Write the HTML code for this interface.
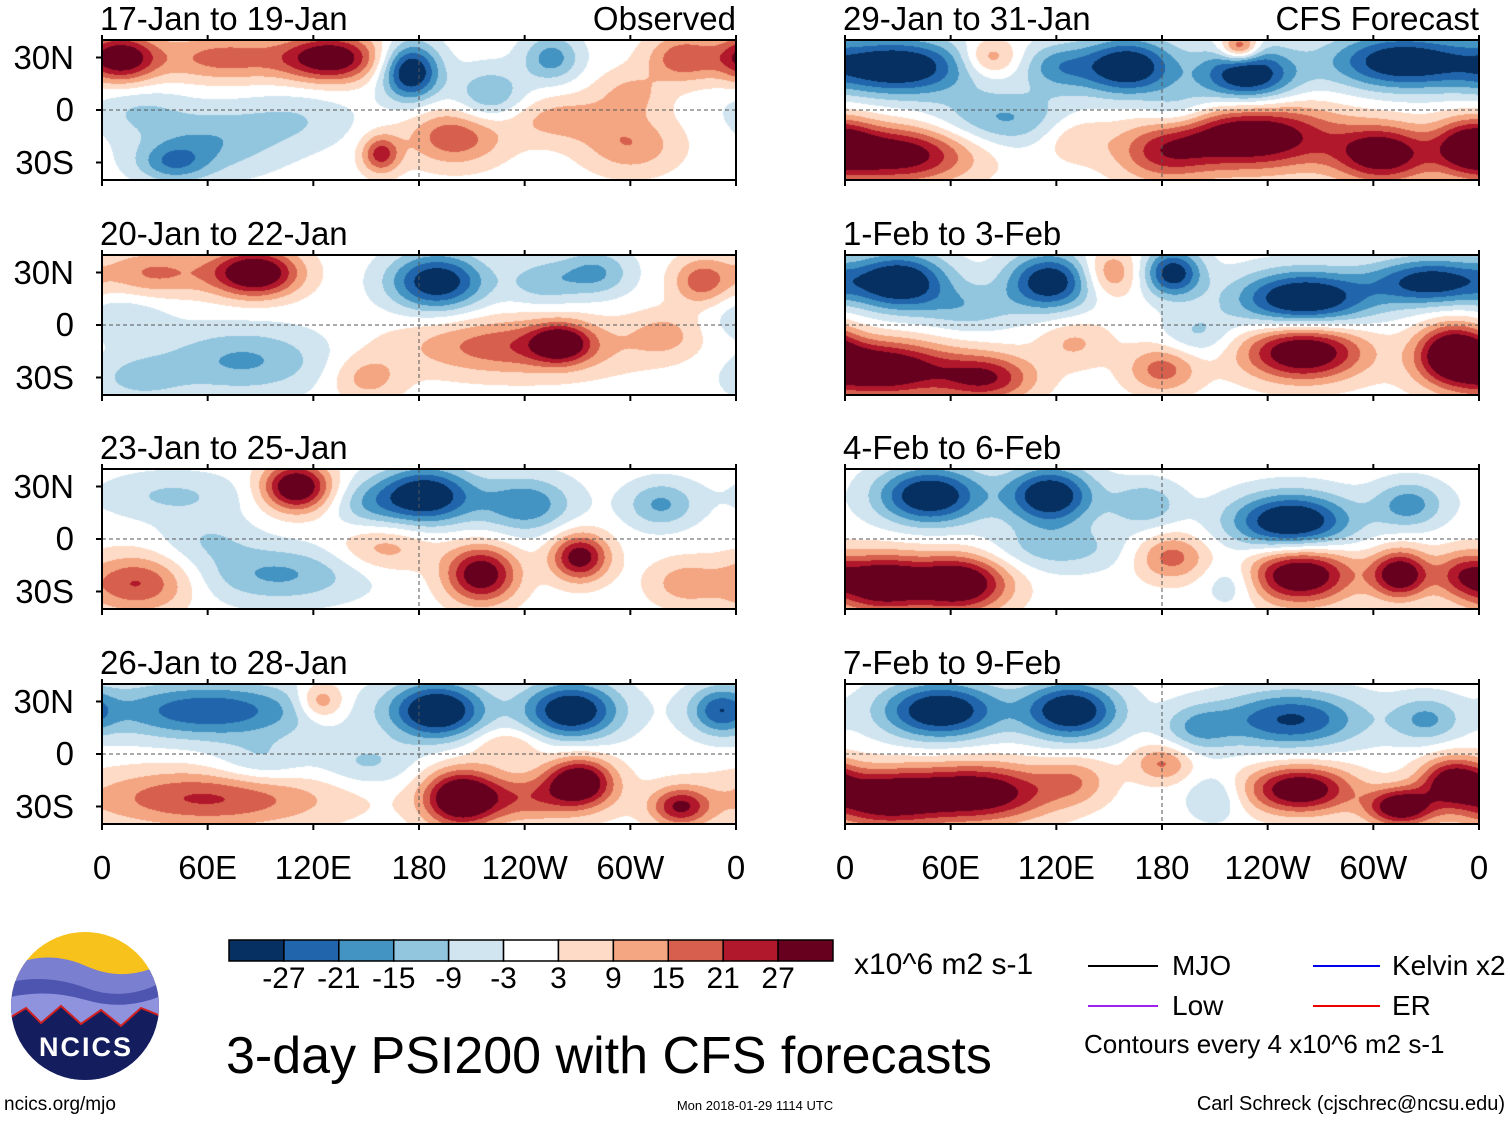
<!DOCTYPE html>
<html><head><meta charset="utf-8">
<style>
body{margin:0;background:#fff;font-family:"Liberation Sans",sans-serif;}
#wrap{position:relative;width:1510px;height:1121px;overflow:hidden;background:#fff;}
.t{position:absolute;color:#000;white-space:nowrap;line-height:1;}
canvas{position:absolute;}
.frame{position:absolute;border:2px solid #000;box-sizing:border-box;}
</style></head><body>
<div id="wrap">
<svg id="ov" width="1510" height="1121" style="position:absolute;left:0;top:0"></svg>
</div>
<script>
const levels=[-27,-21,-15,-9,-3,3,9,15,21,27];
const levelLabels=["-27","-21","-15","-9","-3","3","9","15","21","27"];
const colors=["#053061","#2166ac","#4393c3","#92c5de","#d1e5f0","#ffffff","#fddbc7","#f4a582","#d6604d","#b2182b","#67001f"];
const xTickLabels=["0","60E","120E","180","120W","60W","0"];
const xTickLons=[0,60,120,180,240,300,360];
const yTickLabels=["30N","0","30S"];
const yTickLats=[30,0,-30];
const panelTitles=["17-Jan to 19-Jan","20-Jan to 22-Jan","23-Jan to 25-Jan","26-Jan to 28-Jan","29-Jan to 31-Jan","1-Feb to 3-Feb","4-Feb to 6-Feb","7-Feb to 9-Feb"];
// blobs: [lon, lat, amplitude, lonRadius, latRadius]
const blobs1=[[10,30,34,15,10],[70,30,18,30,10],[130,30,34,20,10],[175,22,-36,12,12],[60,-18,-14,30,14],[200,-15,20,20,12],[158,-25,24,8,8],[330,30,20,15,10],[220,8,-16,15,12],[255,30,-18,12,10],[110,-5,-8,25,12],[300,-20,14,20,12],[40,-30,-16,15,8],[260,-5,12,25,10],[20,0,-8,20,10],[300,10,10,15,10]];
const blobs2=[[87,30,38,18,10],[30,30,16,25,10],[190,25,-34,20,12],[80,-20,-16,35,14],[235,-12,20,45,12],[260,-10,26,12,8],[340,25,18,12,10],[280,30,-16,15,10],[20,-30,-10,20,10],[150,-30,12,15,10],[250,25,-12,15,10],[320,-5,10,15,10],[10,5,-8,20,10]];
const blobs3=[[110,30,38,14,10],[183,25,-36,20,12],[240,20,-20,20,12],[215,-20,34,15,12],[271,-10,32,12,10],[20,-25,22,22,12],[100,-20,-16,35,12],[317,20,-16,15,10],[40,25,-10,30,10],[160,-5,12,20,10],[330,-25,12,15,10],[150,20,-10,15,10],[60,0,-8,20,10]];
const blobs4=[[60,25,-26,45,12],[190,25,-38,20,12],[266,25,-36,20,12],[350,25,-20,12,10],[60,-25,22,50,12],[203,-25,36,15,12],[271,-15,34,14,10],[328,-30,26,12,8],[124,30,18,10,8],[240,-25,18,30,10],[150,-5,-10,20,10],[230,5,10,15,8],[90,-5,-10,20,10]];
const blobs5=[[30,25,-36,30,12],[82,30,16,12,8],[160,25,-36,20,12],[228,20,-36,20,12],[315,28,-34,30,12],[224,36,28,8,6],[30,-25,34,30,12],[230,-15,38,35,14],[305,-25,34,20,12],[355,-20,28,15,12],[90,-5,-16,30,12],[180,-25,18,20,12],[120,25,-16,15,10],[130,-15,10,15,10],[190,0,-12,15,10]];
const blobs6=[[31,25,-36,20,12],[116,25,-34,18,12],[186,30,-32,12,10],[260,15,-38,28,12],[333,25,-32,25,10],[20,-25,38,30,12],[80,-30,26,20,10],[260,-15,38,25,12],[345,-15,34,15,12],[150,30,16,12,10],[180,-25,18,15,10],[70,10,-12,20,10],[130,-10,10,15,10],[200,-5,-10,15,10]];
const blobs7=[[48,25,-36,22,12],[116,25,-36,18,12],[253,10,-38,25,12],[320,20,-18,15,10],[20,-25,38,20,12],[65,-25,38,20,12],[258,-20,38,22,12],[315,-20,36,12,10],[185,-10,18,15,10],[120,-5,-12,30,10],[170,20,-14,15,10],[350,-20,18,12,10],[220,-25,-10,12,10]];
const blobs8=[[54,25,-36,25,12],[128,25,-36,20,12],[253,20,-28,30,12],[330,20,-16,15,10],[20,-25,34,25,12],[75,-22,36,30,12],[258,-20,36,22,10],[315,-30,36,14,8],[345,-15,30,14,10],[180,-5,16,12,8],[200,15,-14,15,10],[130,-15,12,15,10],[210,-25,-10,12,10]];
const allBlobs=[blobs1,blobs2,blobs3,blobs4,blobs5,blobs6,blobs7,blobs8];

const PW=634,PH=140,RS=1.35;
const lefts=[102,845],tops=[40,255,469,684];
const wrap=document.getElementById('wrap');
const ov=document.getElementById('ov');
const NS="http://www.w3.org/2000/svg";
function lonX(x0,lon){return x0+lon/360*PW;}
function latY(y0,lat){return y0+PH/2-lat/80*PH;}
function hex(c){return [parseInt(c.substr(1,2),16),parseInt(c.substr(3,2),16),parseInt(c.substr(5,2),16)];}
const rgb=colors.map(hex);
function addText(txt,x,y,size,anchor,name){
  const d=document.createElement('div');d.className='t';d.textContent=txt;
  d.style.fontSize=size+'px';d.style.top=y+'px';
  if(anchor==='right'){d.style.right=(1510-x)+'px';}
  else if(anchor==='center'){d.style.left=x+'px';d.style.transform='translateX(-50%)';}
  else d.style.left=x+'px';
  
  
  wrap.appendChild(d);return d;
}
function line(x1,y1,x2,y2,stroke,w,dash,name){
  const l=document.createElementNS(NS,'line');
  l.setAttribute('x1',x1);l.setAttribute('y1',y1);l.setAttribute('x2',x2);l.setAttribute('y2',y2);
  l.setAttribute('stroke',stroke);l.setAttribute('stroke-width',w);if(dash)l.setAttribute('stroke-dasharray',dash);
  
  
  ov.appendChild(l);
}
for(let p=0;p<8;p++){
  const col=p<4?0:1,row=p%4;const x0=lefts[col],y0=tops[row];
  const cv=document.createElement('canvas');cv.width=PW;cv.height=PH;
  cv.style.left=x0+'px';cv.style.top=y0+'px';
  
  
  wrap.insertBefore(cv,ov);
  const ctx=cv.getContext('2d');const img=ctx.createImageData(PW,PH);
  const B=allBlobs[p];
  for(let j=0;j<PH;j++){const lat=40-j/PH*80;
    for(let i=0;i<PW;i++){const lon=i/PW*360;let v=0;
      for(const b of B){let dx=Math.abs(lon-b[0]);if(dx>180)dx=360-dx;const dy=lat-b[1];
        const rl=b[3]*RS,rt=b[4]*RS;
        v+=b[2]*Math.exp(-(dx*dx/(rl*rl)+dy*dy/(rt*rt)));}
      let k=0;while(k<levels.length&&v>=levels[k])k++;const c=rgb[k];const o=(j*PW+i)*4;
      img.data[o]=c[0];img.data[o+1]=c[1];img.data[o+2]=c[2];img.data[o+3]=255;}}
  ctx.putImageData(img,0,0);
  const f=document.createElement('div');f.className='frame';
  f.style.left=(x0-1)+'px';f.style.top=(y0-1)+'px';f.style.width=(PW+2)+'px';f.style.height=(PH+2)+'px';
  
  
  wrap.appendChild(f);
  line(x0,latY(y0,0),x0+PW,latY(y0,0),'#555',1,'4,3','equator-line');
  line(lonX(x0,180),y0,lonX(x0,180),y0+PH,'#555',1,'4,3','dateline');
  for(const lon of xTickLons){line(lonX(x0,lon),y0+PH,lonX(x0,lon),y0+PH+6,'#000',2,null,'x-tick');
    line(lonX(x0,lon),y0,lonX(x0,lon),y0-5,'#000',2,null,'x-tick-top');}
  addText(panelTitles[p],x0-2,y0-38,33,'left','panel-title-'+(p+1));
  if(row===0)addText(col===0?'Observed':'CFS Forecast',x0+PW,y0-38,33,'right','panel-label');
  if(col===0)yTickLats.forEach((lat,k)=>{addText(yTickLabels[k],74,latY(y0,lat)-17,33,'right','y-tick-label');
    line(x0-6,latY(y0,lat),x0,latY(y0,lat),'#000',2,null,'y-tick');});
  if(row===3)xTickLons.forEach((lon,k)=>addText(xTickLabels[k],lonX(x0,lon),851,33,'center','x-tick-label'));
}
const cbX=229,cbY=940,cbW=604,cbH=21,bw=cbW/colors.length;
colors.forEach((c,k)=>{const r=document.createElementNS(NS,'rect');
  r.setAttribute('x',cbX+k*bw);r.setAttribute('y',cbY);r.setAttribute('width',bw);r.setAttribute('height',cbH);
  r.setAttribute('fill',c);r.setAttribute('stroke','#000');r.setAttribute('stroke-width',1.5);
  
  
  ov.appendChild(r);});
levelLabels.forEach((t,k)=>addText(t,cbX+(k+1)*bw,964,30,'center','colorbar-label'));
addText('x10^6 m2 s-1',854,950,30,'left','colorbar-units');
line(1088,966,1158,966,'#000',2,null,'legend-mjo-line');addText('MJO',1172,952,28,'left','legend-mjo');
line(1313,966,1380,966,'#0000ee',2,null,'legend-kelvin-line');addText('Kelvin x2',1392,952,28,'left','legend-kelvin');
line(1088,1006,1158,1006,'#a020f0',2,null,'legend-low-line');addText('Low',1172,992,28,'left','legend-low');
line(1313,1006,1380,1006,'#ee0000',2,null,'legend-er-line');addText('ER',1392,992,28,'left','legend-er');
addText('Contours every 4 x10^6 m2 s-1',1084,1031,26,'left','contour-note');
addText('3-day PSI200 with CFS forecasts',226,1030,52,'left','main-title');
addText('ncics.org/mjo',4,1095,19,'left','footer-url');
addText('Mon 2018-01-29 1114 UTC',755,1099,13,'center','footer-date');
addText('Carl Schreck (cjschrec@ncsu.edu)',1505,1094,20,'right','footer-author');
</script>
<svg width="160" height="160" style="position:absolute;left:6px;top:928px">
<defs><clipPath id="cc"><circle cx="79" cy="78" r="74"/></clipPath></defs>
<g clip-path="url(#cc)">
<rect x="0" y="0" width="160" height="160" fill="#f7c21b"/>
<path d="M0 40 Q40 20 80 38 T160 34 L160 160 L0 160Z" fill="#7a7fcf"/>
<path d="M0 55 Q40 45 80 60 T160 52 L160 160 L0 160Z" fill="#4d55b0"/>
<path d="M0 70 Q40 60 80 72 T160 66 L160 160 L0 160Z" fill="#8f93de"/>
<path d="M0 92 L20 80 L35 95 L55 78 L75 96 L95 82 L115 98 L135 80 L160 90 L160 160 L0 160Z" fill="#141e5e" stroke="#d02020" stroke-width="2"/>
</g>
<text x="80" y="128" text-anchor="middle" font-family="Liberation Sans" font-weight="bold" font-size="27" fill="#fff" letter-spacing="2">NCICS</text>
</svg>
</body></html>
